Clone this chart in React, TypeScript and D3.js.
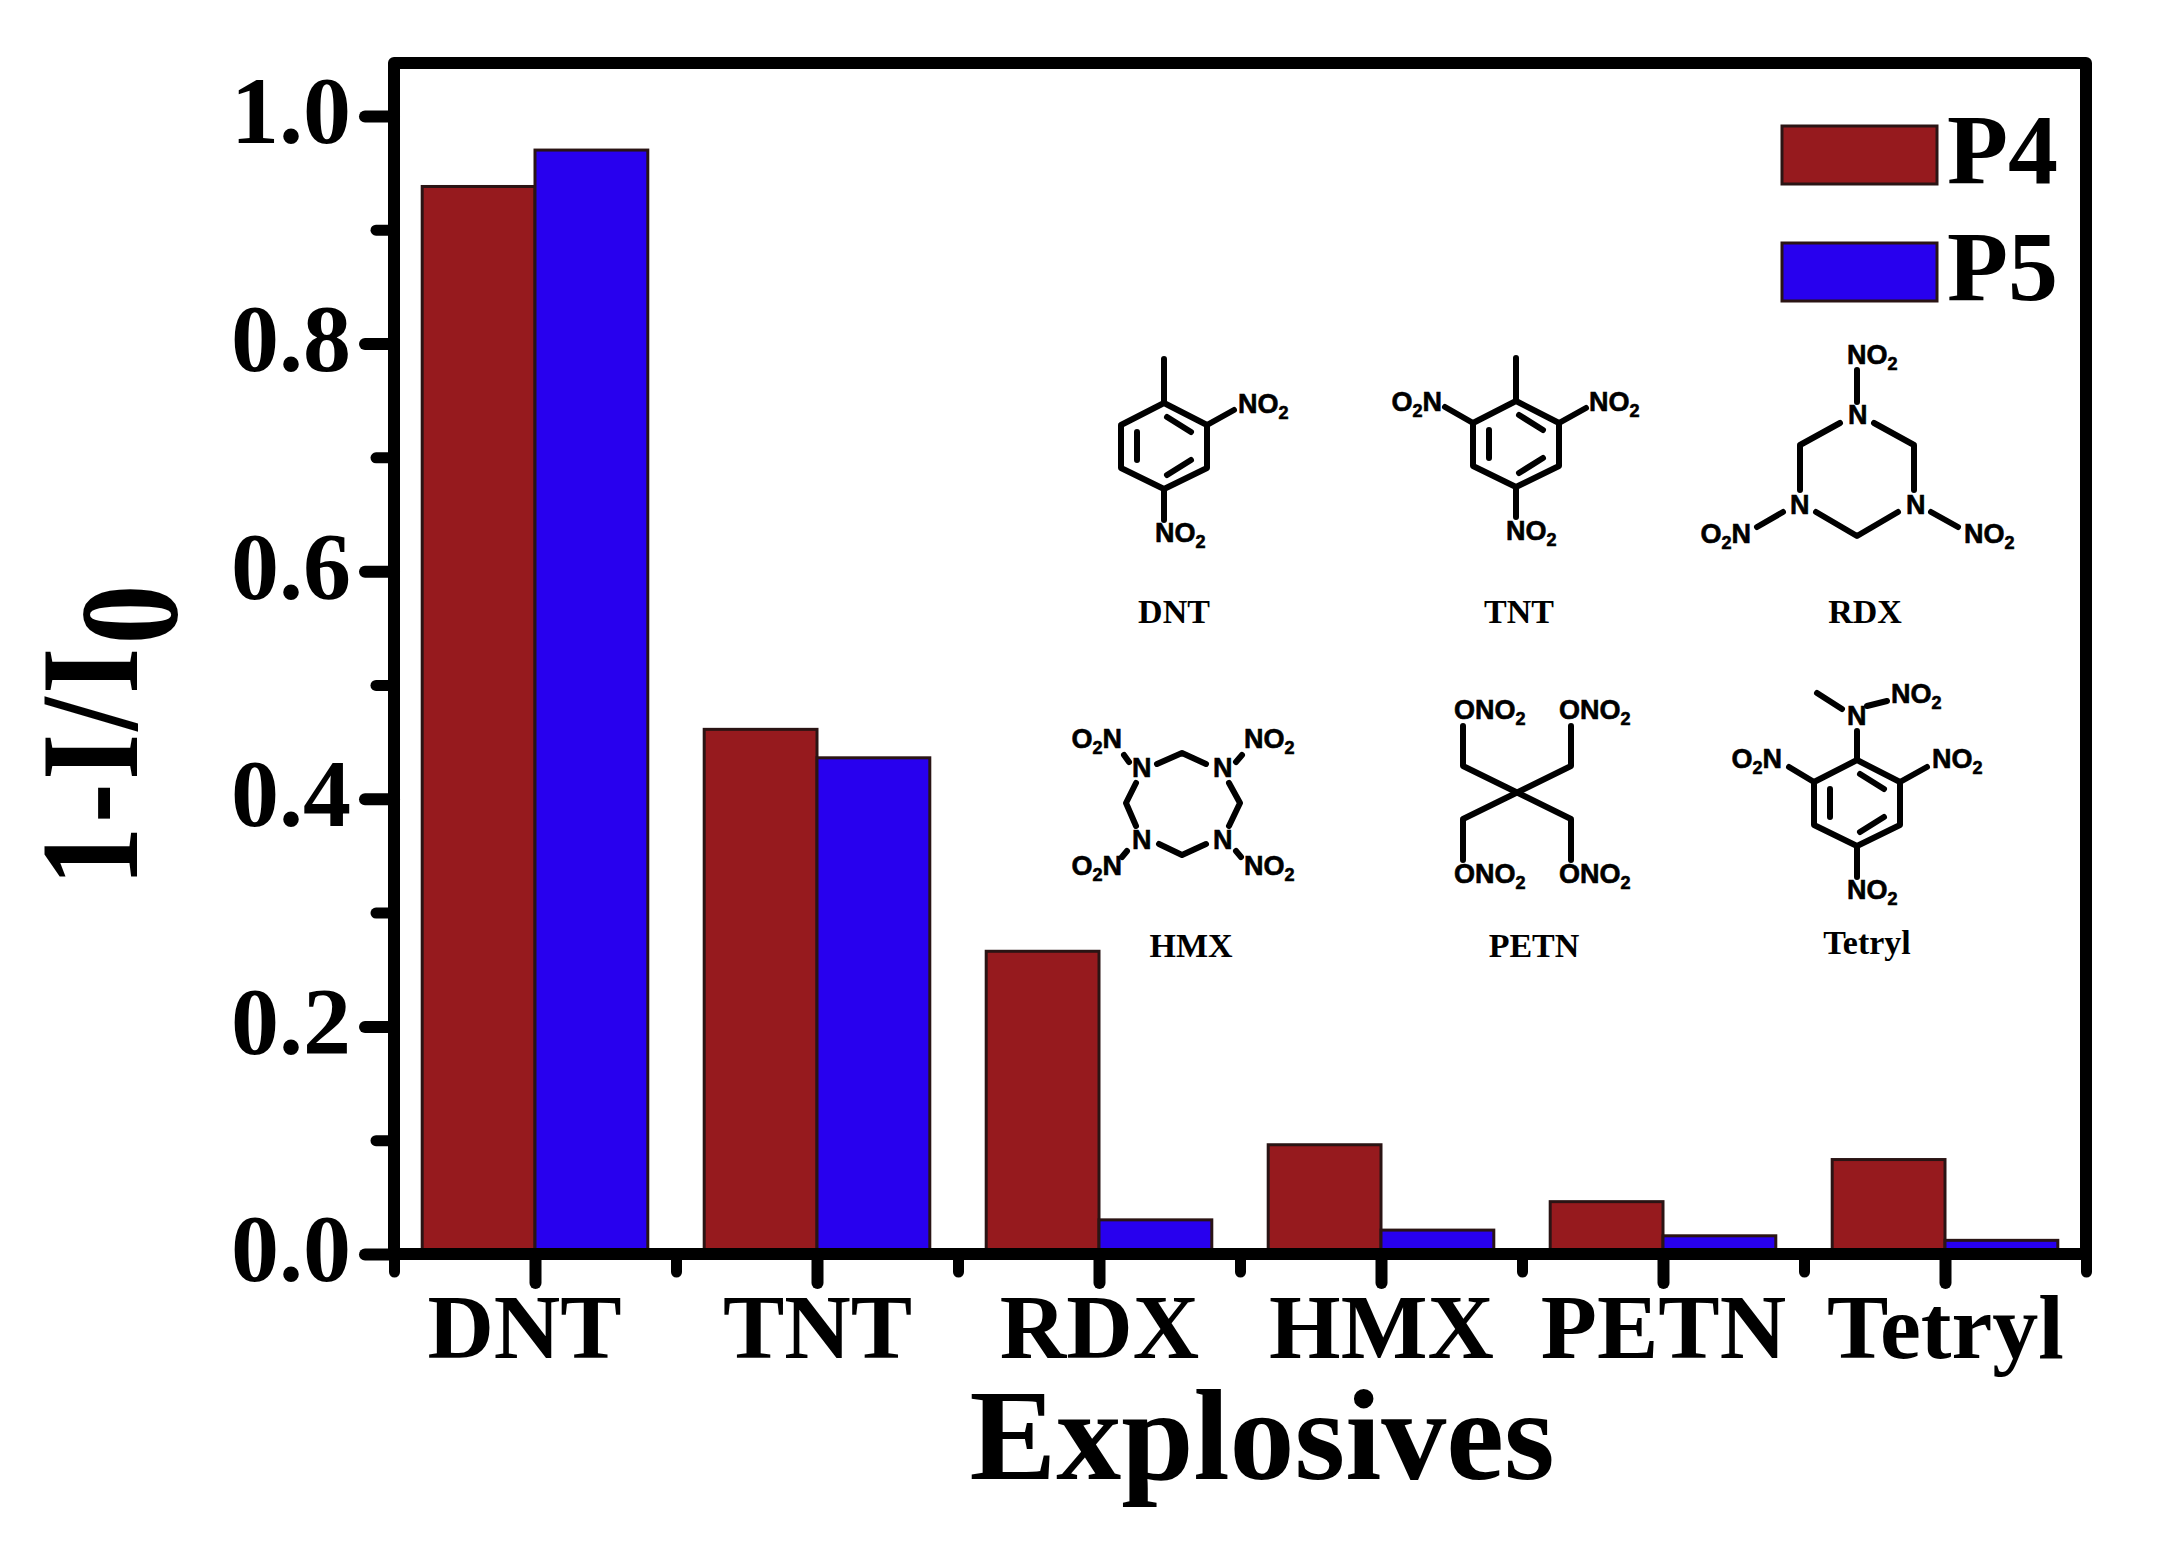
import { useEffect, useRef } from "react";
import * as d3 from "d3";

const categories = ["DNT", "TNT", "RDX", "HMX", "PETN", "Tetryl"];
const seriesNames = ["P4", "P5"];
const p4Values = [0.938, 0.461, 0.266, 0.096, 0.046, 0.083];
const p5Values = [0.97, 0.436, 0.03, 0.021, 0.016, 0.012];
const majorTicks = [0, 0.2, 0.4, 0.6, 0.8, 1.0];
const minorTicks = [0.1, 0.3, 0.5, 0.7, 0.9];
const seriesColors = ["#961a1e", "#2800ee"];

const SERIF = "'Liberation Serif', serif";
const SANS = "'Liberation Sans', sans-serif";

// sans label with a subscript, e.g. ["NO", "2"] or ["O", "2", "N"]
const Chem = ({ x, y, parts, end }: any) => (
  <text
    x={x}
    y={y}
    fontFamily={SANS}
    fontWeight="bold"
    fontSize={27}
    textAnchor={end ? "end" : "start"}
    fill="#000"
    stroke="#000"
    strokeWidth={0.6}
  >
    {parts[0]}
    {parts[1] ? <tspan fontSize={18} dy={6}>{parts[1]}</tspan> : null}
    {parts[2] ? <tspan dy={-6}>{parts[2]}</tspan> : null}
  </text>
);

const Name = ({ x, y, children }: any) => (
  <text x={x} y={y} fontFamily={SERIF} fontWeight="bold" fontSize={34} textAnchor="middle" fill="#000">
    {children}
  </text>
);

const Bonds = ({ d }: any) => (
  <path d={d} fill="none" stroke="#000" strokeWidth={6} strokeLinecap="round" strokeLinejoin="round" />
);

// benzene ring with its three inner double bonds
const Ring = ({ cx, cy }: any) => (
  <g transform={`translate(${cx},${cy})`}>
    <Bonds d="M0,-43L43,-21L43,22L0,43L-43,22L-43,-21Z" />
    <Bonds d="M3,-29L27,-14M-27,-14L-27,14M3,29L27,14" />
  </g>
);

const Molecules = () => (
  <g>
    {/* DNT */}
    <Ring cx={1164} cy={446} />
    <Bonds d="M1164,403V359M1207,425L1234,410M1164,489V520" />
    <Chem x={1238} y={413} parts={["NO", "2"]} />
    <Chem x={1155} y={542} parts={["NO", "2"]} />
    <Name x={1174} y={623}>DNT</Name>

    {/* TNT */}
    <Ring cx={1516} cy={444} />
    <Bonds d="M1516,401V358M1559,423L1586,408M1473,423L1445,407M1516,487V517" />
    <Chem x={1589} y={411} parts={["NO", "2"]} />
    <Chem x={1442} y={411} parts={["O", "2", "N"]} end />
    <Chem x={1506} y={540} parts={["NO", "2"]} />
    <Name x={1519} y={623}>TNT</Name>

    {/* RDX */}
    <Bonds d="M1857,370V402M1840,423L1800,445V490M1874,423L1914,445V490M1816,512L1857,536L1898,512M1783,512L1757,527M1931,512L1958,527" />
    <Chem x={1848} y={424} parts={["N"]} />
    <Chem x={1790} y={514} parts={["N"]} />
    <Chem x={1906} y={514} parts={["N"]} />
    <Chem x={1847} y={364} parts={["NO", "2"]} />
    <Chem x={1751} y={543} parts={["O", "2", "N"]} end />
    <Chem x={1964} y={543} parts={["NO", "2"]} />
    <Name x={1865} y={623}>RDX</Name>

    {/* HMX */}
    <Bonds d="M1157,764L1182,753L1206,764M1136,783L1126,803L1136,826M1159,844L1182,855L1206,844M1229,783L1240,803L1229,826M1124,755L1129,762M1242,755L1236,762M1127,851L1122,857M1236,851L1241,857" />
    <Chem x={1132} y={777} parts={["N"]} />
    <Chem x={1213} y={777} parts={["N"]} />
    <Chem x={1132} y={849} parts={["N"]} />
    <Chem x={1213} y={849} parts={["N"]} />
    <Chem x={1122} y={748} parts={["O", "2", "N"]} end />
    <Chem x={1244} y={748} parts={["NO", "2"]} />
    <Chem x={1122} y={875} parts={["O", "2", "N"]} end />
    <Chem x={1244} y={875} parts={["NO", "2"]} />
    <Name x={1191} y={957}>HMX</Name>

    {/* PETN */}
    <Bonds d="M1463,726V766L1571,819V860M1571,726V766L1463,819V860" />
    <Chem x={1454} y={719} parts={["ONO", "2"]} />
    <Chem x={1559} y={719} parts={["ONO", "2"]} />
    <Chem x={1454} y={883} parts={["ONO", "2"]} />
    <Chem x={1559} y={883} parts={["ONO", "2"]} />
    <Name x={1534} y={957}>PETN</Name>

    {/* Tetryl */}
    <Ring cx={1857} cy={803} />
    <Bonds d="M1857,760V731M1817,693L1842,709M1867,706L1887,701M1814,782L1789,767M1900,782L1927,767M1857,846V877" />
    <Chem x={1847} y={725} parts={["N"]} />
    <Chem x={1891} y={703} parts={["NO", "2"]} />
    <Chem x={1782} y={768} parts={["O", "2", "N"]} end />
    <Chem x={1932} y={768} parts={["NO", "2"]} />
    <Chem x={1847} y={899} parts={["NO", "2"]} />
    <Name x={1867} y={954}>Tetryl</Name>
  </g>
);

export default function App() {
  const gRef = useRef<SVGGElement>(null);

  useEffect(() => {
    const g = d3.select(gRef.current);
    g.selectAll("*").remove();

    const left = 394, right = 2086, top = 63, bottom = 1254;
    const x = d3.scaleBand().domain(categories).range([left, right]).paddingInner(0.2).paddingOuter(0.1);
    const xGroup = d3.scaleBand().domain(seriesNames).range([0, x.bandwidth()]);
    const y = d3.scaleLinear().domain([0, 1.0465]).range([bottom, top]);

    const allSeries = [p4Values, p5Values];
    allSeries.forEach((values, s) => {
      g.append("g")
        .selectAll("rect")
        .data(values)
        .enter()
        .append("rect")
        .attr("x", (_, i) => x(categories[i])! + xGroup(seriesNames[s])!)
        .attr("y", (d) => y(d))
        .attr("width", xGroup.bandwidth())
        .attr("height", (d) => bottom - y(d))
        .attr("fill", seriesColors[s])
        .attr("stroke", "#2a1414")
        .attr("stroke-width", 3);
    });

    // frame
    g.append("rect")
      .attr("x", left)
      .attr("y", top)
      .attr("width", right - left)
      .attr("height", bottom - top)
      .attr("fill", "none")
      .attr("stroke", "#000")
      .attr("stroke-width", 12)
      .attr("stroke-linejoin", "round");

    // y axis
    const yAxis = g.append("g").attr("transform", `translate(${left},0)`).call(d3.axisLeft(y).tickValues(majorTicks).tickSize(29).tickFormat(d3.format(".1f") as any));
    yAxis.select(".domain").remove();
    yAxis.selectAll("line").attr("stroke", "#000").attr("stroke-width", 12).attr("stroke-linecap", "round");
    yAxis.selectAll("text")
      .attr("x", -43)
      .attr("dy", "0.28em")
      .attr("font-family", SERIF)
      .attr("font-weight", "bold")
      .attr("font-size", 96)
      .attr("fill", "#000");

    const yMinor = g.append("g").attr("transform", `translate(${left},0)`).call(d3.axisLeft(y).tickValues(minorTicks).tickSize(18));
    yMinor.select(".domain").remove();
    yMinor.selectAll("text").remove();
    yMinor.selectAll("line").attr("stroke", "#000").attr("stroke-width", 11).attr("stroke-linecap", "round");

    // x axis: major ticks sit on the category centres, minor ones between them
    const centers = categories.map((c) => x(c)! + x.bandwidth() / 2);
    const step = x.step();
    const xLinear = d3.scaleLinear().domain([left, right]).range([left, right]);
    const xAxis = g.append("g").attr("transform", `translate(0,${bottom})`).call(d3.axisBottom(xLinear).tickValues(centers).tickSize(29).tickFormat((_, i) => categories[i]));
    xAxis.select(".domain").remove();
    xAxis.selectAll("line").attr("stroke", "#000").attr("stroke-width", 12).attr("stroke-linecap", "round");
    xAxis.selectAll("text")
      .attr("x", (_, i) => (i === 0 ? -11 : 0)) // DNT label sits left of its tick
      .attr("y", 104)
      .attr("dy", 0)
      .attr("font-family", SERIF)
      .attr("font-weight", "bold")
      .attr("font-size", 92)
      .attr("fill", "#000");

    const minorX = [left, ...centers.map((c) => c + step / 2)];
    const xMinor = g.append("g").attr("transform", `translate(0,${bottom})`).call(d3.axisBottom(xLinear).tickValues(minorX).tickSize(18));
    xMinor.select(".domain").remove();
    xMinor.selectAll("text").remove();
    xMinor.selectAll("line").attr("stroke", "#000").attr("stroke-width", 11).attr("stroke-linecap", "round");

    // legend
    const legendY = [126, 243];
    seriesNames.forEach((name, s) => {
      g.append("rect")
        .attr("x", 1782)
        .attr("y", legendY[s])
        .attr("width", 155)
        .attr("height", 58)
        .attr("fill", seriesColors[s])
        .attr("stroke", "#2a1414")
        .attr("stroke-width", 3);
      g.append("text")
        .attr("x", 1947)
        .attr("y", legendY[s] + 57)
        .attr("font-family", SERIF)
        .attr("font-weight", "bold")
        .attr("font-size", 100)
        .attr("fill", "#000")
        .text(name);
    });

    // axis titles
    g.append("text")
      .attr("x", 1262)
      .attr("y", 1479)
      .attr("text-anchor", "middle")
      .attr("font-family", SERIF)
      .attr("font-weight", "bold")
      .attr("font-size", 130)
      .attr("fill", "#000")
      .text("Explosives");

    // the y title is squeezed along its length in the reference
    const yTitle = g.append("text")
      .attr("transform", "translate(137,886) rotate(-90) scale(0.85,1)")
      .attr("font-family", SERIF)
      .attr("font-weight", "bold")
      .attr("font-size", 140)
      .attr("letter-spacing", 4)
      .attr("fill", "#000");
    yTitle.append("tspan").text("1-I/I");
    yTitle.append("tspan").attr("dy", 40).text("0");
  }, []);

  return (
    <svg width={2157} height={1550} style={{ position: "absolute", left: 0, top: 0, background: "#fff" }}>
      <g ref={gRef} />
      <Molecules />
    </svg>
  );
}
